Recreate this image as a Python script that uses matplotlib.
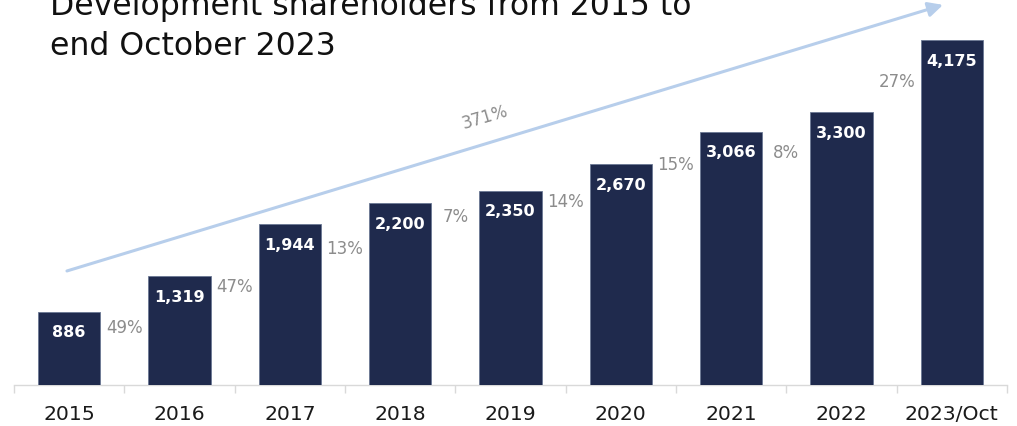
import matplotlib
matplotlib.use("Agg")
import matplotlib.pyplot as plt

# ---- data ----
categories = ["2015", "2016", "2017", "2018", "2019", "2020", "2021", "2022", "2023/Oct"]
shareholders = [886, 1319, 1944, 2200, 2350, 2670, 3066, 3300, 4175]
growth_labels = ["49%", "47%", "13%", "7%", "14%", "15%", "8%", "27%"]
growth_label_y = [702, 1198, 1658, 2045, 2227, 2675, 2820, 3679]
total_growth = "371%"
title_lines = ["Development shareholders from 2015 to", "end October 2023"]

W, H = 1017, 427
fig = plt.figure(figsize=(W / 100, H / 100), dpi=100)
ax_left, ax_right, ax_base, ax_top = 14, 1007, 386, 0
ax = fig.add_axes([ax_left / W, (H - ax_base) / H, (ax_right - ax_left) / W, (ax_base - ax_top) / H])

x = list(range(len(categories)))
bar_color = "#1F2A4D"
ax.bar(x, shareholders, width=0.565, color=bar_color, edgecolor="#6B7894", linewidth=0.6, zorder=3)

ax.set_xlim(-0.5, len(categories) - 0.5)
ax.set_ylim(0, 4671)

# bar value labels
for xi, v in zip(x, shareholders):
    ax.annotate(f"{v:,}", (xi, v), xytext=(0, -14.5), textcoords="offset points",
                ha="center", va="center", color="white", fontweight="bold",
                fontsize=11.5, family="DejaVu Sans", zorder=4)

# growth labels between bars
for i, (lab, yv) in enumerate(zip(growth_labels, growth_label_y)):
    ax.text(i + 0.5, yv, lab, ha="center", va="center", color="#8C8C8C",
            fontsize=12, family="DejaVu Sans", zorder=4)

# arrow
ax.annotate("", xy=(7.92, 4600), xytext=(-0.02, 1380),
            arrowprops=dict(arrowstyle="-|>", color="#B7CEEB", lw=2.2,
                            mutation_scale=22, shrinkA=0, shrinkB=0),
            annotation_clip=False, zorder=2)
ax.text(3.77, 3255, total_growth, rotation=16.5, rotation_mode="anchor",
        ha="center", va="center", color="#8C8C8C", fontsize=12, family="DejaVu Sans")

# axes styling
for s in ["top", "right", "left"]:
    ax.spines[s].set_visible(False)
ax.spines["bottom"].set_color("#D9D9D9")
ax.spines["bottom"].set_linewidth(1.0)
ax.set_yticks([])
ax.set_xticks(x)
ax.set_xticklabels(categories, fontsize=14.7, family="DejaVu Sans", color="#1A1A1A")
ax.tick_params(axis="x", which="major", length=0, pad=14)
ax.set_xticks([i - 0.5 for i in range(len(categories) + 1)], minor=True)
ax.tick_params(axis="x", which="minor", length=5.8, color="#D9D9D9", width=1.0)

# title (partially cut at top, as in the reference)
fig.text(50 / W, 1 - 15 / H, title_lines[0], fontsize=22.7, family="DejaVu Sans",
         color="#111111", va="baseline", ha="left")
fig.text(50 / W, 1 - 55 / H, title_lines[1], fontsize=22.7, family="DejaVu Sans",
         color="#111111", va="baseline", ha="left")

fig.savefig("out.png", dpi=100)
